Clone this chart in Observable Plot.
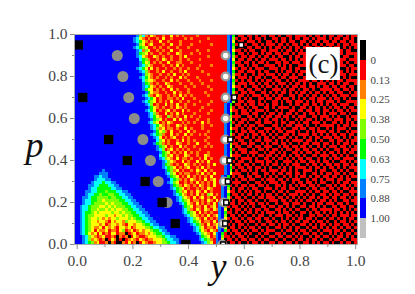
<!DOCTYPE html>
<html>
<head>
<meta charset="utf-8">
<script src="https://cdn.jsdelivr.net/npm/d3@7"></script>
<script src="https://cdn.jsdelivr.net/npm/@observablehq/plot@0.6"></script>
<style>
html,body{margin:0;padding:0;background:#fff;}
#wrap{position:relative;width:415px;height:294px;overflow:hidden;}
#wrap svg{position:absolute;left:0;top:0;background:transparent;}
#wrap svg text{font-family:'Liberation Serif','Times New Roman',serif;}
</style>
</head>
<body>
<div id="wrap"></div>
<script>
// Colour levels
const levelColors = ["#000000","#ff0000","#ff8000","#ffff00","#80ff00","#00ff00","#00ffff","#0080ff","#0000ff"];
const barColors = [...levelColors, "#c0c0c0"];
const barLabels = ["0","0.13","0.25","0.38","0.50","0.63","0.75","0.88","1.00"];

// Heat map levels, top row first (each digit indexes levelColors)
const levelRows = [
"8888888888 8888888888 8874621321 1211312121 1112111111 1111785011 0110101101 1010011011 1101011010 1101101011",
"8888888888 8888888888 8763212112 1311211112 1211111211 1111784101 1010110100 1101101011 0110101110 1011011010",
"8888888888 8888888888 8765321211 3112111211 1111211111 1111783011 0111010011 0101101100 1101011011 0110110110",
"8888888888 8888888888 8874312311 1211311211 1211111121 1111785101 1001101011 1011010110 1010110101 1101011011",
"8888888888 8888888888 8765431121 2112112111 2111111111 1111784011 0110110101 0110101011 0111011010 1011010101",
"8888888888 8888888888 8876243112 1211311211 1112111211 1111783110 1011001101 1101011010 1011010110 1101101100",
"8888888888 8888888888 8875431211 2112113211 1211211111 1111785011 0101101011 0110110101 1101001011 0110101111",
"8888888888 8888888888 8876321132 1211211213 1111111211 1111784101 1011010110 1011001011 0110111010 1101011001",
"8888888888 8888888888 8886542112 1321211211 2111211111 1111783011 0110101101 1101101010 1101010101 1010110111",
"8888888888 8888888888 8887534121 2113112211 1211111111 1111785110 1101011010 0110110111 0101101010 1101101001",
"8888888888 8888888888 8887643211 1211213121 1111211121 1111784011 0101100111 1010101001 1110110101 0110110110",
"8888888888 8888888888 8876531312 1121121211 2112111111 1111783101 1010111001 1101101011 0010110111 1011001011",
"8888888888 8888888888 8887642112 1311211213 1111121111 1111785011 0111010110 0101011010 1101101001 1101101010",
"8888888888 8888888888 8888743211 2112131121 2111111211 1111784110 1001011011 1010110101 1011010110 0110110111",
"8888888888 8888888888 8887653212 1121211312 1112111111 1111783011 1010110100 1101101110 0101101011 1011010100",
"8888888888 8888888888 8888643321 1211312111 2111211121 1111785101 0110101011 0110010101 1110110101 0101101111",
"8888888888 8888888888 8888754212 1132111211 1211121111 1111784011 1011010110 1011101011 0101001110 1101011001",
"8888888888 8888888888 8888765321 2113211112 1121111211 1111783110 1001101011 0101010110 1101101011 0110110110",
"8888888888 8888888888 8888753312 1211312111 2111111121 1111785011 0110110100 1110101101 0110100111 1011011010",
"8888888888 8888888888 8888875322 1121131211 2111112111 1111784101 1011001101 0101101010 1101011010 1101100101",
"8888888888 8888888888 8888764213 2112121312 1211111211 1111783011 0101110110 1011001101 1010110101 0110111011",
"8888888888 8888888888 8888876531 2112212131 1121111111 1111785110 1010011011 0110110101 0101101110 1011010100",
"8888888888 8888888888 8888765431 2121311211 2111211121 1111784011 0111010100 1101011011 1010101101 1101001111",
"8888888888 8888888888 8888876412 1131213112 1121111211 1117850110 1011011010 1101001011 0110110101 0110111001",
"8888888888 8888888888 8888887532 1211213212 1111121111 1117841011 0101100110 1011110100 1101011010 1011010110",
"8888888888 8888888888 8888876531 2123121131 2111211121 1117831101 1010111010 0101001101 1011011011 0101101011",
"8888888888 8888888888 8888887642 1131213121 1121111211 1117850101 1101100101 1011011010 0101101010 1110110100",
"8888888888 8888888888 8888887653 2114212113 1211211111 1117841110 0110101011 0110110101 1100110111 0101001011",
"8888888888 8888888888 8888888754 3121131312 1112111211 1117830101 1011010110 1101010010 1011010101 1011101101",
"8888888888 8888888888 8888887643 1213211121 2121131211 1117851011 0100110111 0101101101 0110111010 0110101010",
"8888888888 8888888888 8888888765 3212113212 1111121121 1117840110 1011011000 1101011011 1010010111 1101011011",
"8888888888 8888888888 8888888764 2312212113 1211121111 1117831101 0110100111 0110100110 1101101001 0101110100",
"8888888888 8888888888 8888888875 3421311211 3121111211 1117850101 1011011010 1011011101 0010101110 1101001011",
"8888888888 8888888888 8888888765 4211312113 1211212111 1117841011 0101101101 0100110101 1110110101 0110110110",
"8888888888 8888888888 8888888876 3121231121 2111111211 1117830110 1101010110 1011101010 0101011011 1011010101",
"8888888888 8888888888 8888888886 4312112131 2121112111 1117851011 0010110111 0101010111 1011010100 1101101011",
"8888888888 8888888888 8888888875 4212113211 2113111211 1117841101 1011001010 1101101001 0110111011 0101011010",
"8888888888 8888888888 8888888887 5431211312 1121112121 1117830110 0110110111 0010110110 1101001010 1110110101",
"8888888888 8888888888 8888888887 6412312121 2111211111 1117851011 1001011010 1101011011 0110110101 0011011011",
"8888888888 8888888888 8888888888 7543121213 1212111211 1117840101 1011100101 1010100110 1011011010 1101010110",
"8888888888 8888888888 8888888888 6542312113 2112113211 1117831110 0101011011 0101101011 0100110111 0110101001",
"8888888888 8888888888 8888888888 7643213122 1211213121 1117850101 1110100110 1011010101 1011001010 1011011110",
"8888888888 8888888888 8888888888 8764321131 2113121311 1117841011 0010111011 0100111010 1101101011 0100110101",
"8888888888 8888888888 8888888888 8754212113 2121211213 1117830110 1101001010 1101010111 0010110101 1011011010",
"8888888888 8888888888 8888888888 8765431212 3112131211 1117851011 0110110101 0010101011 1101011010 1101010111",
"8888888888 7888888888 8888888888 8875423121 1213213121 1117840101 1010101101 1101101010 0111010110 0110101001",
"8888888887 7788888888 8888888888 8876431212 2112131213 1117831110 0101100110 1011011011 0100110101 1011010110",
"8888888776 7788888888 8888888888 8887543121 3121212131 1178501011 0110110101 0100101010 1101011011 0110101011",
"8888888766 6778888888 8888888888 8888654212 1321213123 1178410101 1011001011 1011010111 0010110101 1101101100",
"8888887666 5667788888 8888888888 8887643112 1213121213 1178301110 0100110101 1101100101 1011010110 0101011011",
"8888877665 5566778888 8888888888 8888754213 2121321213 1178510101 1011011010 0110101010 1101101001 1010110101",
"8888876655 5556677888 8888888888 8888765431 2112121321 1178401011 0101100111 0101101101 0010110110 1101011010",
"8888776655 5455566778 8888888888 8888875423 1213213121 1178311010 1010110100 1011010011 1101011011 0110100111",
"8888766554 5544556677 8888888888 8888876532 1213121431 2178501101 0110101011 0100101110 1010100110 1011011010",
"8887765544 4454455667 7888888888 8888887643 2131231213 1178410110 1001011011 1011010101 0101101011 0110110101",
"8887665544 3444445566 7788888888 8888887654 3122121321 3178301011 0110100101 1101101010 1011010110 1010011011",
"8887665444 4343444556 6778888888 8888888765 3213121213 1785011010 1011011010 0100110111 0100101101 1101101001",
"8876654443 3434344455 6677888888 8888888875 4312213123 1784101101 0101001101 1011010100 1101101010 0110110110",
"8876654434 4343433445 5667788888 8888888876 4213213213 2783010110 1010110110 0110101011 0010110111 1011010101",
"8876554343 3334334344 5566778888 8888888876 5431312121 1785110101 0110101011 1010110100 1101011010 1010101010",
"8876544333 3433233434 4556677888 8888888887 6432121312 3784011010 1001011001 0111011010 1001101101 0110111011",
"8876543343 2323343334 3455667788 8888888888 7643213121 2783101101 0110110110 1001010101 1011010010 1101010110",
"8876543323 3213233243 3344566778 8888888888 7654312213 1785010110 1011010011 0101101011 0110101101 0010110101",
"8876543332 3123323213 3233455677 8888888888 8765421312 3784101011 0100101101 1010110100 1101010110 1011011010",
"8876543223 1323213323 1233344566 7788888888 8876431221 3783011010 1011010010 0110101011 0010110101 0110101101",
"8876543132 2312213412 3123233455 6778888888 8876532132 1785101101 0101101011 1001011010 1101001011 1011010010",
"8876532313 1213312201 2312232345 5677888888 8887643213 7851010110 1010010110 0110100101 0110110100 1010101101",
"8887643212 3112102120 1321123334 4566778888 8888754312 7841101011 0100101001 1011011010 1001011011 0101101010",
"8887642321 2013201012 3213212233 3456677888 8888765421 7830110101 1011010110 0100100101 1010110100 1011010011",
"8887654231 1202100213 1201321123 3445667888 8888876431 7851011010 0101101001 1011011010 0110101011 0100101101"
];

// Overlaid markers
const grayP = [0.9,0.8,0.7,0.6,0.5,0.4,0.3,0.2];
const grayY = [0.144,0.164,0.185,0.205,0.236,0.263,0.291,0.323];
const ringP = [0.9,0.8,0.7,0.6,0.5,0.4,0.3,0.2,0.1,0.0];
const ringY = [0.533,0.533,0.533,0.533,0.532,0.529,0.527,0.527,0.524,0.521];
const blackP = [0.95,0.7,0.5,0.4,0.3,0.2,0.1,0.0];
const blackY = [0.004,0.02,0.113,0.18,0.244,0.305,0.352,0.39];
const whiteP = [0.95,0.7,0.5,0.4,0.3,0.2,0.1,0.0];
const whiteY = [0.589,0.564,0.55,0.547,0.541,0.535,0.531,0.524];

const xDomain = [-0.0097,1.0065];
const majorTicks = [0,0.2,0.4,0.6,0.8,1.0];
const minorTicks = [0.1,0.3,0.5,0.7,0.9];

const rows = levelRows.map(r => r.replace(/ /g,""));
const nRows = rows.length, nCols = 100;
const cells = rows.flatMap((r,i) => Array.from(r,(c,j) => ({
  x1: xDomain[0] + (xDomain[1]-xDomain[0])*j/nCols,
  x2: xDomain[0] + (xDomain[1]-xDomain[0])*(j+1)/nCols,
  y1: 1 - i/nRows,
  y2: 1 - (i+1)/nRows,
  level: +c
})));
const pts = (xs,ys) => xs.map((x,i) => ({y:x,p:ys[i]}));
const serif = "'Liberation Serif','Times New Roman',serif";

const main = Plot.plot({
  width:415, height:294,
  marginLeft:74, marginRight:58, marginTop:34, marginBottom:50,
  style:{background:"transparent",fontFamily:serif},
  x:{domain:xDomain},
  y:{domain:[0,1]},
  color:{type:"ordinal",domain:d3.range(levelColors.length),range:levelColors},
  marks:[
    Plot.rect(cells,{x1:"x1",x2:"x2",y1:"y1",y2:"y2",fill:"level",shapeRendering:"crispEdges",imageFilter:"blur(0.35px)"}),
    Plot.dot(pts(grayY,grayP),{x:"y",y:"p",r:5.5,fill:"#8c8c8c",clip:"frame"}),
    Plot.dot(pts(ringY,ringP),{x:"y",y:"p",r:3.9,fill:"#fff",stroke:"#999",strokeWidth:2.4,clip:"frame"}),
    Plot.dot(pts(blackY,blackP),{x:"y",y:"p",r:5.25,symbol:"square",fill:"#000",clip:"frame"}),
    Plot.dot(pts(whiteY,whiteP),{x:"y",y:"p",r:2.8,symbol:"square",fill:"#fff",stroke:"#000",strokeWidth:1.5,clip:"frame"}),
    Plot.frame({stroke:"#aaa"}),
    Plot.rect([0],{x1:0.823,x2:0.945,y1:0.938,y2:0.781,fill:"#fff"}),
    Plot.text(["(c)"],{x:0.884,y:0.86,fontSize:27,fill:"#111"}),
    Plot.axisX({ticks:majorTicks,tickFormat:".1f",tickSize:5,tickPadding:5,stroke:"#888",fill:"#444",fontSize:15.5,label:null}),
    Plot.axisX({ticks:minorTicks,tickFormat:()=>"",tickSize:3,stroke:"#888",label:null}),
    Plot.axisY({ticks:majorTicks,tickFormat:".1f",tickSize:4,tickPadding:3,stroke:"#888",fill:"#444",fontSize:15.5,label:null}),
    Plot.axisY({ticks:minorTicks,tickFormat:()=>"",tickSize:2,stroke:"#888",label:null}),
    Plot.text(["p"],{frameAnchor:"left",dx:-49,dy:6,fontSize:36,fontStyle:"italic",fill:"#111"}),
    Plot.text(["y"],{x:0.507,frameAnchor:"bottom",dy:33,fontSize:36,fontStyle:"italic",fill:"#111"})
  ]
});

const bar = Plot.plot({
  width:415, height:294,
  marginLeft:360, marginRight:49, marginTop:40, marginBottom:56,
  style:{background:"transparent",fontFamily:serif},
  x:{domain:[0,1],axis:null},
  y:{domain:[9,-1],axis:null},
  color:{type:"identity"},
  marks:[
    Plot.rect(barColors,{x1:0,x2:1,y1:(d,i)=>i-1,y2:(d,i)=>i,fill:d=>d,shapeRendering:"crispEdges"}),
    Plot.axisY({anchor:"right",ticks:d3.range(barLabels.length),tickFormat:i=>barLabels[i],tickSize:0,tickPadding:4,fill:"#444",fontSize:11,label:null})
  ]
});

document.getElementById("wrap").append(main, bar);
</script>
</body>
</html>
